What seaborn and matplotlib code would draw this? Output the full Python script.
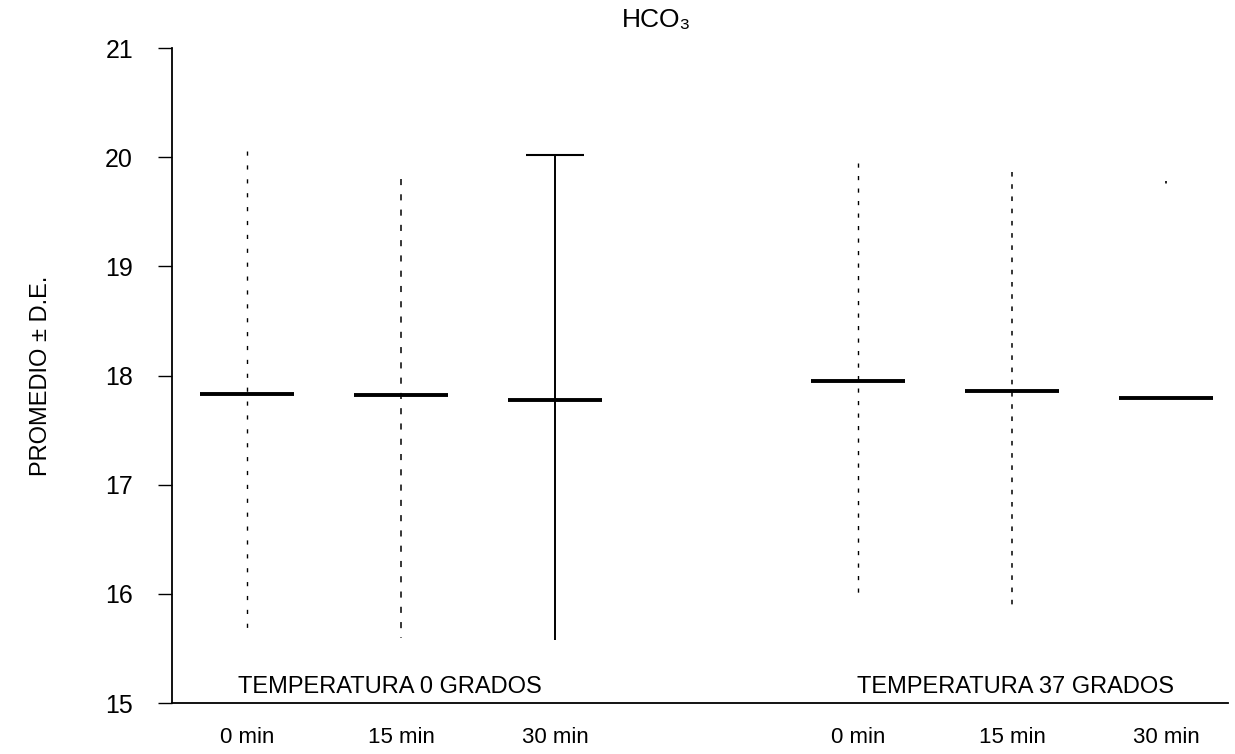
import numpy as np
import pandas as pd
import matplotlib
matplotlib.use("Agg")
import matplotlib.pyplot as plt
import seaborn as sns

# ---- data ----
groups = ["TEMPERATURA 0 GRADOS", "TEMPERATURA 0 GRADOS", "TEMPERATURA 0 GRADOS",
          "TEMPERATURA 37 GRADOS", "TEMPERATURA 37 GRADOS", "TEMPERATURA 37 GRADOS"]
times = ["0 min", "15 min", "30 min", "0 min", "15 min", "30 min"]
means = [17.83, 17.82, 17.78, 17.95, 17.86, 17.79]
upper = [20.06, 19.80, 20.02, 19.95, 19.86, 19.78]
lower = [15.61, 15.60, 15.58, 15.96, 15.88, 15.80]
yticks = [15, 16, 17, 18, 19, 20, 21]

# ---- layout (positions on the x scale) and styles ----
pos = [0, 1, 2, 3.97, 4.97, 5.97]
err_styles = [(0, (3, 7)), (0, (4, 6)), "solid", (0, (3, 6)), (0, (3, 5)), (0, (1.5, 1000))]
err_widths = [1.0, 1.1, 1.4, 1.0, 1.1, 1.2]

df = pd.DataFrame({"pos": pos, "mean": means, "upper": upper, "lower": lower,
                   "time": times, "group": groups})

sns.set_theme(style="white")
plt.rcParams["font.family"] = ["Liberation Sans", "DejaVu Sans"]
for k in ["text.color", "axes.labelcolor", "xtick.color", "ytick.color", "axes.edgecolor"]:
    plt.rcParams[k] = "black"

fig = plt.figure(figsize=(12.35, 7.54), dpi=100)
ax = fig.add_axes([172 / 1235, 1 - 703 / 754, (1228 - 172) / 1235, (703 - 48) / 754])

# error bars (mean +/- SD)
for i, r in df.iterrows():
    cont = ax.errorbar([r["pos"]], [r["mean"]],
                       yerr=[[r["mean"] - r["lower"]], [r["upper"] - r["mean"]]],
                       fmt="none", ecolor="black", elinewidth=err_widths[i],
                       capsize=0, zorder=2)
    lc = cont[2][0]
    # draw from the top end downward so dash patterns start at the upper limit
    lc.set_segments([np.asarray(s)[::-1] for s in lc.get_segments()])
    lc.set_linestyle(err_styles[i])

# cap on the third bar (visible in the reference)
r = df.iloc[2]
ax.errorbar([r["pos"]], [r["mean"]], yerr=[[0], [r["upper"] - r["mean"]]],
            fmt="none", ecolor="black", elinewidth=0, capsize=21, capthick=1.5, zorder=2)

# means as horizontal bars
sns.scatterplot(data=df, x="pos", y="mean", marker="_", s=68 ** 2,
                color="black", linewidth=2.8, ax=ax, zorder=3, legend=False)

ax.set_xlim(-0.487, (1228 - 247) / 154)
ax.set_ylim(15, 21)
ax.set_yticks(yticks)
ax.set_yticklabels([str(t) for t in yticks], fontsize=18)
ax.set_xticks(pos)
ax.set_xticklabels(times, fontsize=16)
ax.tick_params(axis="x", length=0, pad=17)
ax.tick_params(axis="y", length=10, width=1, direction="out", color="black", pad=18, left=True)
ax.set_xlabel("")
ax.set_ylabel("PROMEDIO ± D.E.", fontsize=17, va="center")
ax.yaxis.set_label_coords((41 - 172) / 1056, 0.5)

for s in ["top", "right"]:
    ax.spines[s].set_visible(False)
for s in ["left", "bottom"]:
    ax.spines[s].set_color("black")
    ax.spines[s].set_linewidth(1.3)

ax.set_title("HCO₃", fontsize=19, x=(656 - 172) / 1056, pad=15)

ax.text(0.93, 15.09, "TEMPERATURA 0 GRADOS", ha="center", va="baseline", fontsize=17)
ax.text(4.99, 15.09, "TEMPERATURA 37 GRADOS", ha="center", va="baseline", fontsize=17)

fig.savefig("out.png", dpi=100)
